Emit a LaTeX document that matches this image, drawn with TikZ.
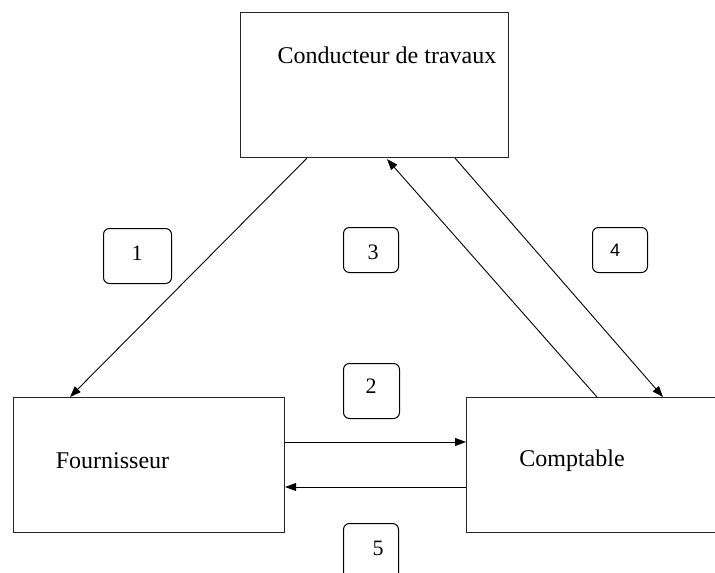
\documentclass[tikz,border=0pt]{standalone}
\usepackage{fontspec}
\setmainfont{Liberation Serif}
\newfontfamily\lsans{Liberation Sans}
\usetikzlibrary{arrows.meta,calc}
\tikzset{
  bigbox/.style={draw=black!85, line width=1.1pt, anchor=north west, inner sep=0pt, fill=none},
  numbox/.style={draw=black, line width=1pt, rounded corners=6pt, anchor=north west, inner sep=0pt},
  boxtext/.style={font=\fontsize{24}{28}\selectfont, inner sep=0pt},
  numtext/.style={font=\fontsize{22}{26}\selectfont, inner sep=0pt},
  arr/.style={line width=0.9pt, -{Triangle[length=11pt,width=8pt]}}
}
\begin{document}
\begin{tikzpicture}[x=1pt,y=-1pt]
\useasboundingbox (0,0) rectangle (715,573);
\clip (0,0) rectangle (715,573);
% main boxes
\node[bigbox, minimum width=268pt, minimum height=145pt] (cond) at (240,12) {};
\node[bigbox, minimum width=271pt, minimum height=135pt] (four) at (13,397) {};
\node[bigbox, minimum width=300pt, minimum height=135pt] (comp) at (466,397) {};
\node[boxtext] (tcond) at (387,55) {Conducteur de travaux};
\node[boxtext] (tfour) at (112.5,461) {Fournisseur};
\node[boxtext] (tcomp) at (572,461) {Comptable};
% number boxes
\node[numbox, minimum width=68pt, minimum height=55pt] (l1) at (103,228) {};
\node[numbox, minimum width=55pt, minimum height=45pt] (l3) at (343,227) {};
\node[numbox, minimum width=55pt, minimum height=45pt] (l4) at (592,227) {};
\node[numbox, minimum width=56pt, minimum height=55pt] (l2) at (343,363) {};
\node[numbox, minimum width=55pt, minimum height=60pt] (l5) at (343,523) {};
\node[numtext] (n1) at (137,253) {1};
\node[numtext] (n3) at (373,252) {3};
\node[font=\lsans\fontsize{18}{22}\selectfont, inner sep=0pt] (n4) at (615,250) {4};
\node[numtext] (n2) at (371,386) {2};
\node[numtext] (n5) at (378,548) {5};
% connectors
\draw[arr] ($(cond.south west)+(67,0)$) -- ($(four.north west)+(57,0)$);
\draw[arr] ($(comp.north west)+(131,0)$) -- ($(cond.south west)+(147,1)$);
\draw[arr] ($(cond.south west)+(215,0)$) -- ($(comp.north west)+(197,0)$);
\draw[arr] ($(four.north east)+(0,45)$) -- ($(comp.north west)+(0,45)$);
\draw[arr] ($(comp.north west)+(0,90)$) -- ($(four.north east)+(0,90)$);
\end{tikzpicture}
\end{document}
